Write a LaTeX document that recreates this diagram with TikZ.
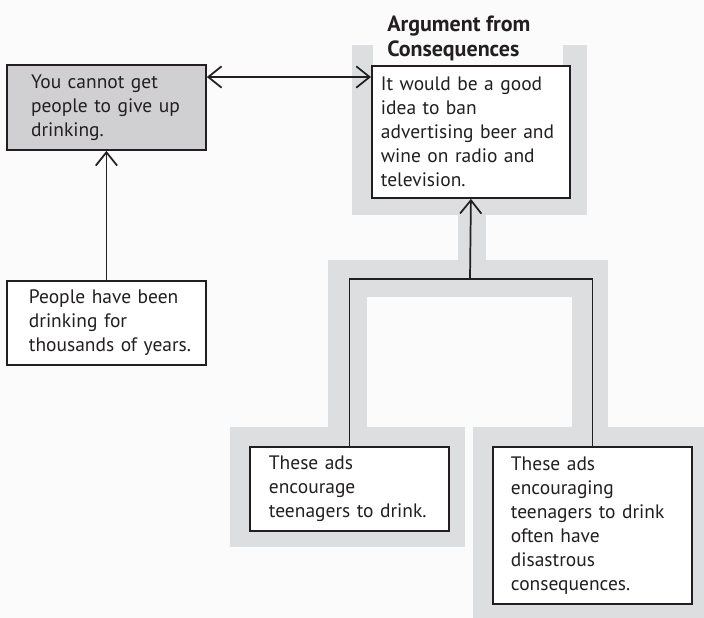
\documentclass[tikz,border=0pt]{standalone}
\usepackage{fontspec}
\setmainfont{PT Sans}
\usepackage{tikz}
\usetikzlibrary{arrows.meta}

\definecolor{bandgray}{RGB}{221,222,224}
\definecolor{boxgray}{RGB}{208,208,210}
\definecolor{inkgray}{RGB}{35,31,32}
\definecolor{paper}{RGB}{251,251,251}

\begin{document}
\begin{tikzpicture}[x=0.75pt,y=0.75pt,yscale=-1,xscale=1,
  argbox/.style={draw=inkgray,line width=1.4pt,fill=white,text=inkgray,
    anchor=north west,align=left,inner ysep=0pt,
    font=\fontsize{14.6pt}{18pt}\selectfont},
  link/.style={draw=inkgray,line width=1.3pt},
  barb/.style={-{Straight Barb[length=10pt,width=16pt,line width=1.3pt]}},
  twobarb/.style={{Straight Barb[length=10pt,width=16pt,line width=1.3pt]}-{Straight Barb[length=10pt,width=16pt,line width=1.3pt]}}]
%set diagram left start at 0, and has height of 618
\useasboundingbox (0,0) rectangle (704,618);
\fill [paper] (0,0) rectangle (704,618);

%Shape: Band round the conclusion
\fill [bandgray] (352,45) rectangle (587,215);
\fill [paper] (373,45) rectangle (563,190);
%Shape: Band stem and cross bar
\fill [bandgray] (458,214) rectangle (486,261);
\fill [bandgray] (328,260) rectangle (608,297);
\fill [bandgray] (328,296) rectangle (367,428);
\fill [bandgray] (572,296) rectangle (608,428);
%Shape: Bands round the premises
\fill [bandgray] (230,427) rectangle (465,547);
\fill [bandgray] (473,427) rectangle (704,618);

% Text Node
\node [anchor=north west,inner sep=0pt,align=left,text=inkgray,
  font=\fontsize{16.5pt}{18.75pt}\selectfont\bfseries] (title) at (387,16)
  {Argument from\\Consequences};

%Shape: Rectangle
\node [argbox,fill=boxgray,inner xsep=18pt,text width=113pt,
  minimum width=149.25pt,minimum height=63.75pt] (giveup) at (6,64)
  {You cannot get\\people to give~up\\drinking.};
%Shape: Rectangle
\node [argbox,inner xsep=6.75pt,text width=135pt,
  minimum width=148.5pt,minimum height=99pt] (ban) at (371,65)
  {It would be a good\\idea to ban\\advertising~beer~and\\wine on radio and\\television.};
%Shape: Rectangle
\node [argbox,inner xsep=16.5pt,text width=116.25pt,
  minimum width=149.25pt,minimum height=63pt] (years) at (6,280)
  {People have~been\\drinking for\\thousands~of~years.};
%Shape: Rectangle
\node [argbox,inner xsep=14.25pt,text width=120.75pt,
  minimum width=149.25pt,minimum height=63pt] (encourage) at (249,446)
  {These ads\\encourage\\teenagers~to~drink.};
%Shape: Rectangle
\node [argbox,inner xsep=13.5pt,text width=122.25pt,
  minimum width=149.25pt,minimum height=117.75pt] (disaster) at (492,446)
  {These ads\\encouraging\\teenagers~to~drink\\often have\\disastrous\\consequences.};

\coordinate (fork) at (470,279);

%Straight Lines
\draw [link,twobarb] ([yshift=9.75pt]giveup.north east) -- ([yshift=9.75pt]giveup.north east -| ban.west);
%Straight Lines
\draw [link,barb] (years.north) -- (giveup.south);
%Straight Lines
\draw [link,barb] (fork) -- (ban.south);
\draw [link] (encourage.north) |- (fork) -| (disaster.north);

\end{tikzpicture}
\end{document}
